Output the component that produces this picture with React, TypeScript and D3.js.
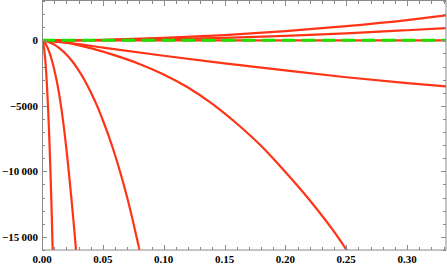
import { useEffect, useRef } from 'react';
import * as d3 from 'd3';

// x positions and values, one array pair per curve
const upperX = [0, 0.05, 0.1, 0.15, 0.2, 0.25, 0.3, 0.332];
const upper1Y = [0, 45, 180, 400, 700, 1080, 1540, 1900];
const upper2Y = [0, 20, 85, 190, 340, 530, 770, 935];

const zeroX = [0, 0.332];
const zeroY = [0, 0];

const lowX = [0, 0.025, 0.05, 0.1, 0.15, 0.2, 0.25, 0.3, 0.332];
const lowY = [0, -230, -560, -1180, -1760, -2300, -2820, -3270, -3520];

const midX = [0, 0.02, 0.04, 0.06, 0.08, 0.1, 0.12, 0.14, 0.16, 0.18, 0.2, 0.22, 0.24, 0.25, 0.26];
const midY = [0, -170, -600, -1150, -1800, -2600, -3600, -4850, -6350, -8050, -10050, -12200, -14600, -15950, -17350];

const steepX = [0, 0.005, 0.01, 0.015, 0.02, 0.025, 0.03, 0.035, 0.04, 0.045, 0.05, 0.055, 0.06, 0.065, 0.07, 0.075, 0.08, 0.085];
const steepY = [0, -120, -320, -650, -1080, -1620, -2280, -3050, -3950, -4950, -6100, -7350, -8750, -10300, -12000, -13900, -15950, -18100];

const steeperX = [0, 0.002, 0.004, 0.006, 0.008, 0.01, 0.012, 0.014, 0.016, 0.018, 0.02, 0.022, 0.024, 0.026, 0.028, 0.03];
const steeperY = [0, -150, -450, -900, -1480, -2200, -3050, -4050, -5250, -6650, -8250, -10000, -11900, -13900, -16050, -18300];

const steepestX = [0, 0.001, 0.002, 0.003, 0.004, 0.005, 0.006, 0.007, 0.008, 0.009, 0.0095];
const steepestY = [0, -210, -830, -1860, -3300, -5170, -7450, -10150, -13250, -16750, -18700];

const xMajorTicks = [0, 0.05, 0.1, 0.15, 0.2, 0.25, 0.3];
const xTickLabels = ['0.00', '0.05', '0.10', '0.15', '0.20', '0.25', '0.30'];
const yMajorTicks = [0, -5000, -10000, -15000];
const yTickLabels = ['0', '\u22125000', '\u221210\u2009000', '\u221215\u2009000'];

const redCurves = [
  [upperX, upper1Y],
  [upperX, upper2Y],
  [zeroX, zeroY],
  [lowX, lowY],
  [midX, midY],
  [steepX, steepY],
  [steeperX, steeperY],
  [steepestX, steepestY],
];

const App = () => {
  const svgRef = useRef<SVGSVGElement>(null);

  useEffect(() => {
    const width = 447;
    const height = 267;
    const frame = { left: 42, right: 446, top: 1, bottom: 250 };

    const svg = d3.select(svgRef.current).attr('width', width).attr('height', height);
    svg.selectAll('*').remove();

    const x = d3.scaleLinear().domain([0, 0.332]).range([frame.left, frame.right]);
    const y = d3.scaleLinear().domain([-16000, 3000]).range([frame.bottom, frame.top]);

    svg.append('defs')
      .append('clipPath')
      .attr('id', 'plot-clip')
      .append('rect')
      .attr('x', frame.left)
      .attr('y', frame.top)
      .attr('width', frame.right - frame.left)
      .attr('height', frame.bottom - frame.top);

    const line = d3.line<[number, number]>()
      .x(d => x(d[0]))
      .y(d => y(d[1]))
      .curve(d3.curveMonotoneX);

    const plot = svg.append('g').attr('clip-path', 'url(#plot-clip)');

    redCurves.forEach(([xs, ys]) => {
      plot.append('path')
        .datum(xs.map((v, i) => [v, ys[i]] as [number, number]))
        .attr('d', line)
        .attr('fill', 'none')
        .attr('stroke', '#ff3416')
        .attr('stroke-width', 2.2);
    });

    // green dashed line laid over the red zero line
    plot.append('path')
      .datum(zeroX.map((v, i) => [v, zeroY[i]] as [number, number]))
      .attr('d', line)
      .attr('fill', 'none')
      .attr('stroke', '#22e000')
      .attr('stroke-width', 3)
      .attr('stroke-dasharray', '13,7');

    // frame
    svg.append('rect')
      .attr('x', frame.left + 0.5)
      .attr('y', frame.top - 0.5)
      .attr('width', frame.right - frame.left - 0.5)
      .attr('height', frame.bottom - frame.top + 0.5)
      .attr('fill', 'none')
      .attr('stroke', '#8a8a8a')
      .attr('stroke-width', 1);

    const ticks = svg.append('g').attr('stroke', '#8a8a8a').attr('stroke-width', 1);

    // x ticks every 0.01, longer every 0.05 (bottom and top, pointing inward)
    d3.range(0, 34).forEach(i => {
      const v = i / 100;
      const px = Math.round(x(v)) + 0.5;
      const len = i % 5 === 0 ? 5 : 3;
      ticks.append('line').attr('x1', px).attr('x2', px).attr('y1', frame.bottom).attr('y2', frame.bottom - len);
      ticks.append('line').attr('x1', px).attr('x2', px).attr('y1', frame.top - 0.5).attr('y2', frame.top + len);
    });

    // y ticks every 1000, longer every 5000 (left and right)
    d3.range(-16, 4).forEach(i => {
      const v = i * 1000;
      const py = Math.round(y(v)) + 0.5;
      const len = i % 5 === 0 ? 5 : 3;
      ticks.append('line').attr('x1', frame.left).attr('x2', frame.left + len).attr('y1', py).attr('y2', py);
      ticks.append('line').attr('x1', frame.right).attr('x2', frame.right - len).attr('y1', py).attr('y2', py);
    });

    const font = '"Liberation Serif", "Times New Roman", serif';

    svg.selectAll('.x-label')
      .data(xMajorTicks)
      .enter()
      .append('text')
      .attr('class', 'x-label')
      .attr('x', d => x(d))
      .attr('y', 263)
      .attr('text-anchor', 'middle')
      .style('font-family', font)
      .style('font-weight', 'bold')
      .style('font-size', '11px')
      .text((d, i) => xTickLabels[i]);

    svg.selectAll('.y-label')
      .data(yMajorTicks)
      .enter()
      .append('text')
      .attr('class', 'y-label')
      .attr('x', 38)
      .attr('y', d => y(d))
      .attr('dy', '0.35em')
      .attr('text-anchor', 'end')
      .style('font-family', font)
      .style('font-weight', 'bold')
      .style('font-size', '11px')
      .text((d, i) => yTickLabels[i]);
  }, []);

  return <svg ref={svgRef} style={{ position: 'absolute', left: 0, top: 0, background: '#fff' }} />;
};

export default App;
